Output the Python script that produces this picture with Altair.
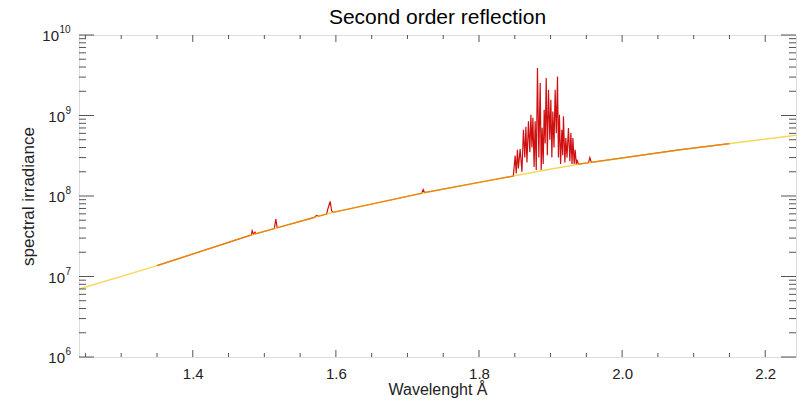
import altair as alt
import pandas as pd

# continuum (yellow)
cont_w = [1.241, 1.340, 1.480, 1.592, 1.722, 1.816, 1.895, 1.941, 2.082, 2.243]
cont_v = [7.0e6, 1.28e7, 3.24e7, 6.15e7, 1.09e8, 1.57e8, 2.12e8, 2.50e8, 3.76e8, 5.69e8]

red_w = [1.350, 1.480, 1.482, 1.483, 1.485, 1.487, 1.488, 1.514, 1.516, 1.518,
         1.570, 1.573, 1.576, 1.587, 1.589, 1.592, 1.594, 1.596, 1.600,
         1.720, 1.722, 1.724, 1.816, 1.848,
         1.8505, 1.852, 1.8537, 1.855, 1.8575, 1.860, 1.8621, 1.864, 1.8655, 1.867,
         1.8691, 1.871, 1.8725, 1.874, 1.8753, 1.877, 1.8785, 1.880, 1.8817, 1.8836,
         1.8855, 1.8869, 1.8883, 1.8897, 1.8911, 1.8925, 1.8939, 1.8955, 1.8971, 1.899,
         1.9004, 1.9018, 1.9032, 1.9048, 1.9064, 1.908, 1.9097, 1.911, 1.9124, 1.914,
         1.9158, 1.917, 1.918, 1.920, 1.9214, 1.923, 1.925, 1.927, 1.9284, 1.930,
         1.9312, 1.933, 1.9344, 1.936, 1.9368, 1.939, 1.941,
         1.953, 1.955, 1.957, 2.082, 2.150]
red_v = [1.364e7, 3.24e7, 3.28e7, 3.70e7, 3.34e7, 3.55e7, 3.40e7, 3.94e7, 5.18e7, 4.03e7,
         5.42e7, 5.74e7, 5.61e7, 5.98e7, 7.0e7, 8.57e7, 6.6e7, 6.26e7, 6.37e7,
         1.08e8, 1.20e8, 1.10e8, 1.57e8, 1.77e8,
         3.17e8, 1.9e8, 3.76e8, 2.2e8, 3.84e8, 2.0e8, 6.67e8, 3.0e8, 7.27e8, 2.6e8,
         8.45e8, 3.5e8, 1.02e9, 4.0e8, 9.4e8, 2.3e8, 8.45e8, 2.1e8, 3.89e9, 3.0e8,
         2.53e9, 2.1e8, 7.06e8, 2.5e8, 1.18e9, 4.5e8, 2.92e9, 3.2e8, 2.09e9, 5.0e8,
         1.57e9, 3.0e8, 1.12e9, 4.0e8, 2.09e9, 6.0e8, 3.06e9, 3.0e8, 1.02e9, 2.5e8,
         6.67e8, 3.2e8, 9.75e8, 2.6e8, 5.25e8, 3.0e8, 7.0e8, 2.7e8, 6.07e8, 2.5e8,
         5.25e8, 2.5e8, 3.76e8, 2.47e8, 2.83e8, 2.48e8, 2.50e8,
         2.59e8, 3.0e8, 2.62e8, 3.76e8, 4.48e8]

x_major = [1.4, 1.6, 1.8, 2.0, 2.2]
x_minor = [1.25, 1.3, 1.35, 1.45, 1.5, 1.55, 1.65, 1.7, 1.75, 1.85, 1.9, 1.95, 2.05, 2.1, 2.15]
y_major_1 = [1e6, 1e7, 1e8, 1e9]
y_exp_1 = ["6", "7", "8", "9"]
y_major_2 = [1e10]
y_exp_2 = ["10"]
y_major = y_major_1 + y_major_2
y_minor = [m * 10 ** e for e in range(6, 10) for m in range(2, 10)]

W, H = 717, 322
FONT = "Liberation Sans"
TICK = "#555555"
TXT = "#222222"

xs = alt.Scale(domain=[1.241, 2.243], nice=False, zero=False)
ys = alt.Scale(type="log", domain=[1e6, 1e10], nice=False)

cont = pd.DataFrame({"w": cont_w, "v": cont_v})
red = pd.DataFrame({"w": red_w, "v": red_v})

x_axis = alt.Axis(values=x_major, format=".1f", title="Wavelenght Å", tickSize=0,
                  domain=False, grid=False, labelPadding=9, titlePadding=0,
                  labelFont=FONT, titleFont=FONT, labelFontSize=15, titleFontSize=16,
                  titleFontWeight="normal", labelColor=TXT, titleColor=TXT)
y_axis = alt.Axis(values=y_major, labels=False, title="spectral irradiance",
                  tickSize=0, domain=False, grid=False,
                  titleFont=FONT, titleFontSize=17,
                  titleFontWeight="normal", titleColor=TXT,
                  titleX=-51, titleY=H / 2, titleAlign="center", titleBaseline="middle")

red_line = alt.Chart(red).mark_line(color="#d01010", strokeWidth=1.2, clip=True).encode(
    x=alt.X("w:Q", scale=xs, axis=x_axis),
    y=alt.Y("v:Q", scale=ys, axis=y_axis),
)
yellow_line = alt.Chart(cont).mark_line(color="#f2c200", strokeWidth=1.5, opacity=0.65, clip=True).encode(
    x=alt.X("w:Q", scale=xs),
    y=alt.Y("v:Q", scale=ys),
)

def xticks(vals, length):
    df = pd.DataFrame({"t": vals})
    base = alt.Chart(df).mark_rule(color=TICK, strokeWidth=1)
    bottom = base.encode(x=alt.X("t:Q", scale=xs), y=alt.value(H), y2=alt.value(H - length))
    top = base.encode(x=alt.X("t:Q", scale=xs), y=alt.value(0), y2=alt.value(length))
    return [bottom, top]

def yticks(vals, length):
    df = pd.DataFrame({"t": vals})
    base = alt.Chart(df).mark_rule(color=TICK, strokeWidth=1)
    left = base.encode(y=alt.Y("t:Q", scale=ys), x=alt.value(0), x2=alt.value(length))
    right = base.encode(y=alt.Y("t:Q", scale=ys), x=alt.value(W), x2=alt.value(W - length))
    return [left, right]

def ylabels(vals, exps, base_x):
    df = pd.DataFrame({"t": vals, "e": exps})
    base_txt = alt.Chart(df).mark_text(font=FONT, fontSize=15, color=TXT, align="right",
                                       baseline="middle", dy=1).encode(
        y=alt.Y("t:Q", scale=ys), x=alt.value(base_x), text=alt.value("10"))
    exp_txt = alt.Chart(df).mark_text(font=FONT, fontSize=10, color=TXT, align="left",
                                      baseline="middle", dy=-5, dx=0.5).encode(
        y=alt.Y("t:Q", scale=ys), x=alt.value(base_x), text="e:N")
    return [base_txt, exp_txt]

layers = ([red_line, yellow_line] + xticks(x_major, 7) + xticks(x_minor, 4)
          + yticks(y_major, 15) + yticks(y_minor, 7)
          + ylabels(y_major_1, y_exp_1, -14) + ylabels(y_major_2, y_exp_2, -20))

chart = alt.layer(*layers).properties(
    width=W, height=H,
    title=alt.TitleParams("Second order reflection", font=FONT, fontSize=21,
                          fontWeight="normal", color="black", anchor="middle", offset=-3),
    autosize=alt.AutoSizeParams(type="none"),
    padding={"left": 79, "top": 35, "right": 6, "bottom": 44},
).configure_view(stroke="#555555", strokeWidth=1).configure(background="white")

chart.save("out.html", embed_options={"renderer": "svg", "actions": False})
